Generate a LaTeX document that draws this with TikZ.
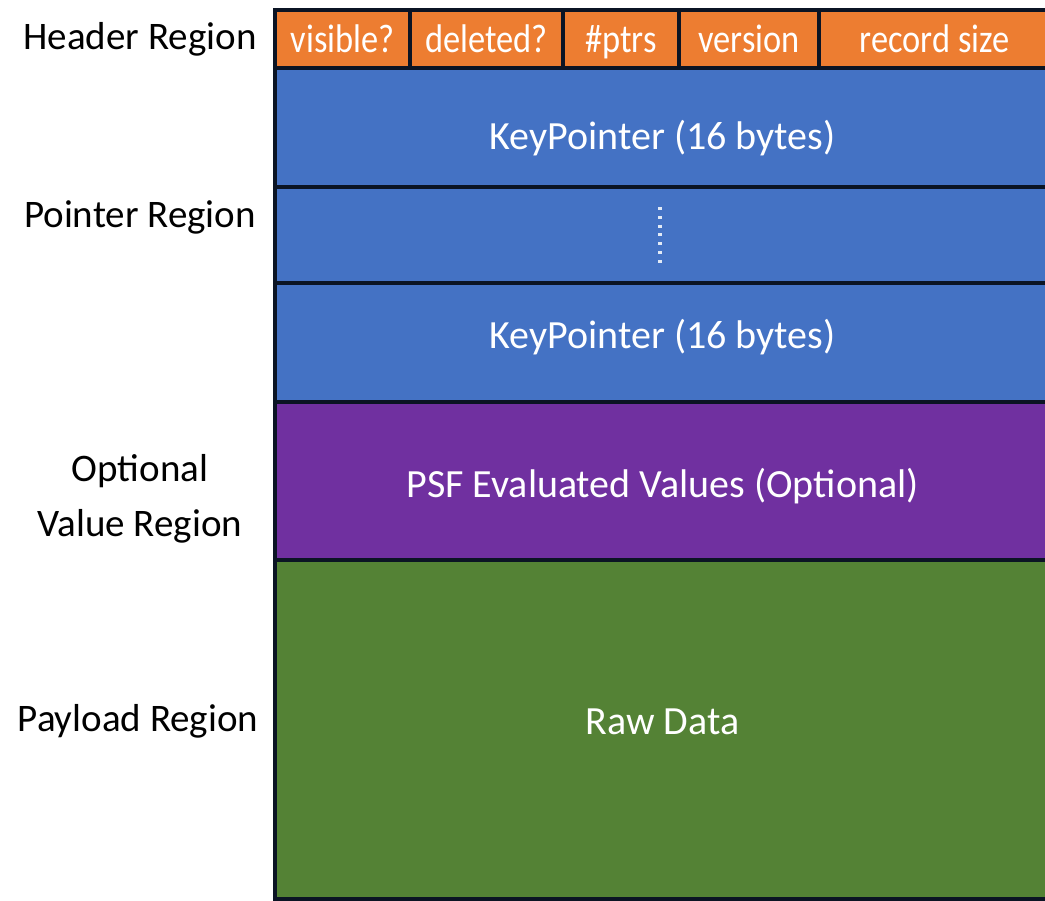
\documentclass[tikz,border=0pt]{standalone}
\usepackage{fontspec}
\setmainfont{Carlito}
\newfontfamily\narrowfont[FakeStretch=0.86]{Carlito}
\usetikzlibrary{positioning}
\definecolor{HdrOrange}{HTML}{ED7D31}
\definecolor{PtrBlue}{HTML}{4472C4}
\definecolor{OptPurple}{HTML}{7030A0}
\definecolor{RawGreen}{HTML}{548235}
\definecolor{Edge}{HTML}{0B1424}

\begin{document}
\begin{tikzpicture}[x=1pt, y=-1pt, node distance=0pt,
    field/.style={draw=Edge, line width=3.5pt, fill=HdrOrange, inner sep=0pt, outer sep=0pt, minimum height=58pt, text height=28pt, text depth=0pt, text=white, font=\narrowfont\fontsize{40}{40}\selectfont},
    band/.style={draw=Edge, line width=3.5pt, inner sep=0pt, outer sep=0pt, minimum width=775pt, text depth=0pt, text=white, font=\fontsize{40}{40}\selectfont},
    region/.style={anchor=base, align=center, text=black, font=\fontsize{39}{55}\selectfont}]
    \clip (0,0) rectangle (1045,901);
    % header fields
    \node[field, minimum width=135pt, anchor=north west] (vis) at (275,10) {visible?};
    \node[field, minimum width=153pt, right=of vis] (del) {deleted?};
    \node[field, minimum width=116pt, right=of del] (ptrs) {\#ptrs};
    \node[field, minimum width=140pt, right=of ptrs] (ver) {version};
    \node[field, minimum width=231pt, right=of ver] (size) {record size};
    % record bands
    \node[band, fill=PtrBlue, minimum height=119pt, text height=45pt, anchor=north west] (kp1) at (vis.south west) {KeyPointer (16 bytes)};
    \node[band, fill=PtrBlue, minimum height=96pt, below=of kp1] (gap) {};
    \node[band, fill=PtrBlue, minimum height=119pt, text height=13pt, below=of gap] (kp2) {KeyPointer (16 bytes)};
    \node[band, fill=OptPurple, minimum height=158pt, text height=32pt, below=of kp2] (psf) {PSF Evaluated Values (Optional)};
    \node[band, fill=RawGreen, minimum height=339pt, text height=9pt, below=of psf] (raw) {Raw Data};
    \draw[white!85!PtrBlue, line width=3.5pt, dash pattern=on 3pt off 5.8pt] ([yshift=-20pt]gap.north -| 660,0) -- ([yshift=20pt]gap.south -| 660,0);
    % region labels
    \node[region] (hdr) at (140,50) {Header Region};
    \node[region] (ptr) at (140,228) {Pointer Region};
    \node[region] (opt) at (140,536) {Optional\\Value Region};
    \node[region] (pay) at (138,731) {Payload Region};
\end{tikzpicture}
\end{document}
